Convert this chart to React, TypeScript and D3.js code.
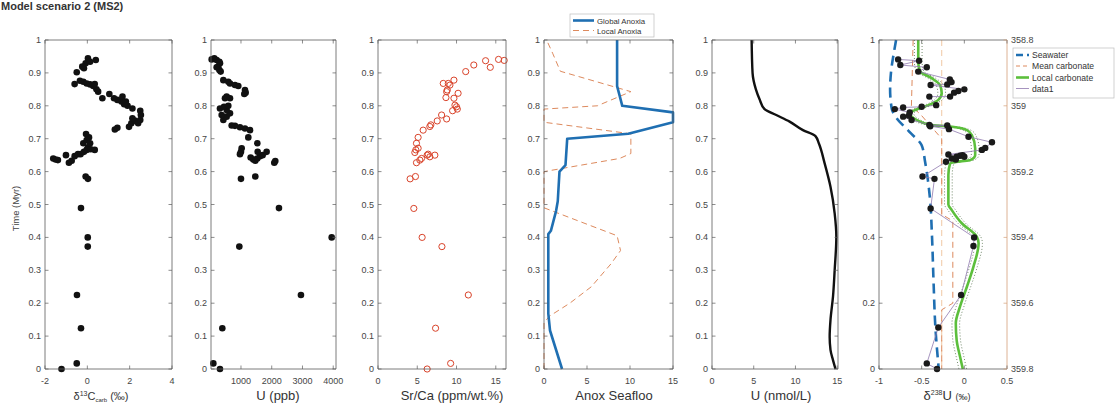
import React from "react";
import * as d3 from "d3";

type Pt = [number, number]; // [value, time (Myr)]

// ---- sample data -------------------------------------------------------
const d13cSamples: Pt[] = [
  [-1.22, 0.0], [-0.5, 0.017], [-0.3, 0.124], [-0.49, 0.225], [0.02, 0.372], [0.02, 0.4],
  [-0.3, 0.489], [0.03, 0.578], [-0.08, 0.585],
  [-1.61, 0.64], [-1.5, 0.637], [-1.39, 0.635], [-1.01, 0.65], [-0.87, 0.627], [-0.74, 0.633],
  [-0.6, 0.647], [-0.44, 0.653], [-0.32, 0.653], [-0.16, 0.66], [-0.03, 0.666], [0.03, 0.674],
  [0.16, 0.668], [0.35, 0.666], [-0.19, 0.686], [-0.03, 0.696], [0.08, 0.704], [-0.06, 0.714],
  [0.13, 0.686],
  [1.3, 0.728], [1.42, 0.733], [1.97, 0.736], [2.08, 0.747], [2.24, 0.755], [2.4, 0.747],
  [2.5, 0.757], [2.13, 0.762], [2.5, 0.785], [2.53, 0.772], [2.13, 0.792], [1.9, 0.8],
  [1.74, 0.805], [1.61, 0.813], [1.42, 0.818], [1.26, 0.823], [1.04, 0.836], [1.66, 0.828],
  [1.82, 0.813], [0.71, 0.823], [0.51, 0.843], [0.43, 0.85], [0.28, 0.86], [0.13, 0.865],
  [-0.03, 0.868], [-0.19, 0.873], [-0.35, 0.876], [-0.6, 0.866], [0.35, 0.866],
  [-0.5, 0.902], [-0.16, 0.914], [-0.08, 0.929], [0.03, 0.944], [0.13, 0.934], [0.4, 0.939],
  [-0.24, 0.919],
];

const uPpbSamples: Pt[] = [
  [317, 0.0], [101, 0.017], [393, 0.124], [2950, 0.225], [946, 0.372], [3950, 0.4],
  [2235, 0.489], [1000, 0.578], [1466, 0.585], [2083, 0.627], [2116, 0.632],
  [1314, 0.643], [1400, 0.637], [1466, 0.633], [1531, 0.64], [1618, 0.647], [1704, 0.65],
  [1834, 0.66], [1542, 0.66], [1531, 0.686], [1238, 0.704], [1022, 0.671], [1000, 0.66],
  [967, 0.653], [1130, 0.731], [967, 0.735], [805, 0.739], [697, 0.74], [1293, 0.726],
  [426, 0.757], [534, 0.767], [372, 0.772], [643, 0.777], [534, 0.787], [317, 0.792],
  [447, 0.797], [588, 0.8], [480, 0.823], [643, 0.823], [534, 0.828], [1130, 0.848],
  [1152, 0.84], [1108, 0.836], [643, 0.868], [805, 0.863], [913, 0.86], [426, 0.878],
  [588, 0.873], [317, 0.929], [263, 0.919], [296, 0.909], [339, 0.904], [209, 0.917],
  [47, 0.941], [133, 0.944], [209, 0.939], [296, 0.934],
];

const srCaSamples: Pt[] = [
  [6.26, 0.0], [9.25, 0.017], [7.33, 0.124], [11.5, 0.225], [8.14, 0.372], [5.62, 0.4],
  [4.56, 0.488], [4.09, 0.578], [4.77, 0.585], [4.9, 0.627], [5.33, 0.635], [5.54, 0.64],
  [6.26, 0.65], [6.6, 0.645], [7.24, 0.65], [6.39, 0.653], [4.69, 0.658], [4.82, 0.666],
  [5.11, 0.671], [4.9, 0.686], [5.11, 0.704], [5.75, 0.726], [6.6, 0.737], [6.73, 0.742],
  [7.54, 0.754], [8.1, 0.772], [8.74, 0.76], [9.5, 0.785], [10.1, 0.79], [9.8, 0.802],
  [10.2, 0.838], [9.67, 0.823], [10.0, 0.797], [8.65, 0.825], [8.74, 0.843], [8.82, 0.848],
  [8.31, 0.868], [9.16, 0.863], [9.67, 0.878], [8.95, 0.868], [11.17, 0.904], [12.2, 0.924],
  [13.7, 0.937], [14.3, 0.917], [15.35, 0.941], [16.07, 0.938],
];

const globalAnoxia: Pt[] = [
  [2.1, 0], [0.7, 0.117], [0.5, 0.168], [0.5, 0.41], [0.8, 0.42], [1.4, 0.48], [1.6, 0.51],
  [1.8, 0.6], [2.5, 0.62], [2.7, 0.7], [9.8, 0.715], [15, 0.75], [15, 0.78], [9.1, 0.8],
  [8.8, 0.83], [8.5, 0.86], [8.5, 1.0],
];

const localAnoxia: Pt[] = [
  [0, 0], [0, 0.14], [0.6, 0.16], [3, 0.2], [5.5, 0.25], [7.8, 0.32], [8.9, 0.36],
  [8.5, 0.405], [0, 0.49], [0, 0.6], [8.8, 0.64], [10.1, 0.655], [10.1, 0.715], [0, 0.75],
  [0, 0.79], [6.2, 0.8], [10.1, 0.843], [1.9, 0.905], [1, 0.96], [0.3, 1],
];

const uDissolved: Pt[] = [
  [4.75, 1.0], [4.86, 0.9], [5.26, 0.85], [5.7, 0.82], [6.3, 0.79], [7.7, 0.772],
  [9.3, 0.752], [10.9, 0.726], [12.4, 0.708], [12.8, 0.686], [13.5, 0.625], [14.2, 0.554],
  [14.7, 0.473], [14.9, 0.402], [14.7, 0.3], [14.5, 0.22], [14.2, 0.149], [14.1, 0.098],
  [14.2, 0.058], [14.5, 0.027], [14.8, 0.0],
];

const seawater: Pt[] = [
  [-0.8, 1.0], [-0.82, 0.97], [-0.86, 0.9], [-0.87, 0.85], [-0.85, 0.79], [-0.8, 0.765],
  [-0.64, 0.72], [-0.5, 0.68], [-0.46, 0.63], [-0.43, 0.58], [-0.4, 0.51], [-0.38, 0.41],
  [-0.36, 0.26], [-0.34, 0.13], [-0.3, 0.0],
];

const meanCarbonate: Pt[] = [
  [-0.6, 1.0], [-0.61, 0.9], [-0.62, 0.8], [-0.5, 0.77], [-0.265, 0.7], [-0.265, 0.47],
  [-0.135, 0.45], [-0.135, 0.2], [-0.265, 0.18], [-0.265, 0.0],
];

const carbonateBaseline: Pt[] = [[-0.265, 1.0], [-0.265, 0.0]];

const localCarbonate: Pt[] = [
  [-0.54, 1.0], [-0.54, 0.934], [-0.52, 0.905], [-0.383, 0.884], [-0.285, 0.863],
  [-0.265, 0.838], [-0.305, 0.818], [-0.42, 0.802], [-0.58, 0.787], [-0.638, 0.777],
  [-0.56, 0.757], [-0.4, 0.742], [-0.167, 0.737], [0.03, 0.726], [0.088, 0.711],
  [0.127, 0.671], [0.127, 0.65], [0.068, 0.635], [-0.05, 0.631], [-0.167, 0.625],
  [-0.187, 0.59], [-0.187, 0.5], [-0.147, 0.483], [-0.03, 0.443], [0.147, 0.402],
  [0.167, 0.382], [0.107, 0.311], [0.03, 0.25], [-0.05, 0.19], [-0.1, 0.139],
  [-0.09, 0.088], [-0.05, 0.037], [-0.018, 0.0],
];
const localCarbonateSpread = 0.045;

const d238uSamples: Pt[] = [
  [-0.32, 0.0], [-0.44, 0.017], [-0.305, 0.126], [-0.038, 0.225], [0.107, 0.374],
  [0.115, 0.4], [-0.395, 0.488], [-0.35, 0.578], [-0.49, 0.585], [-0.215, 0.63],
  [-0.1, 0.637], [-0.147, 0.64], [-0.09, 0.645], [-0.05, 0.648], [-0.02, 0.65],
  [0.0, 0.645], [-0.187, 0.652], [0.206, 0.666], [0.245, 0.672], [0.324, 0.689],
  [0.049, 0.706], [-0.18, 0.729], [-0.2, 0.74], [-0.41, 0.742], [-0.4, 0.738],
  [-0.618, 0.757], [-0.717, 0.767], [-0.65, 0.77], [-0.64, 0.78], [-0.815, 0.79],
  [-0.717, 0.795], [-0.5, 0.797], [-0.33, 0.802], [-0.41, 0.828], [-0.167, 0.828],
  [-0.12, 0.84], [-0.07, 0.845], [0.0, 0.85], [-0.395, 0.863], [-0.2, 0.865],
  [-0.15, 0.872], [-0.17, 0.88], [-0.54, 0.904], [-0.44, 0.917], [-0.75, 0.924],
  [-0.53, 0.937], [-0.776, 0.941],
];

const timeTicks = [0, 0.1, 0.2, 0.3, 0.4, 0.5, 0.6, 0.7, 0.8, 0.9, 1];
const timeTicksCoarse = [0, 0.2, 0.4, 0.6, 0.8, 1];
const ageTickLabels = ["359.8", "359.6", "359.4", "359.2", "359", "358.8"];

// ---- layout -------------------------------------------------------------
const TOP = 40;
const BOTTOM = 369;
const TICK = 3.5;
const AXIS_COLOR = "#5c5c5c";
const LABEL_COLOR = "#454545";
const FONT = "'Liberation Sans', Arial, Helvetica, sans-serif";

const yScale = d3.scaleLinear().domain([0, 1]).range([BOTTOM, TOP]);

const fmt = (v: number) => String(+v.toFixed(2));

type PanelProps = {
  left: number;
  right: number;
  domain: [number, number];
  xTicks: number[];
  yTicks: number[];
  rightSpineColor?: string;
  children: (x: d3.ScaleLinear<number, number>) => React.ReactNode;
};

function Panel({ left, right, domain, xTicks, yTicks, rightSpineColor, children }: PanelProps) {
  const x = d3.scaleLinear().domain(domain).range([left, right]);
  const rc = rightSpineColor ?? AXIS_COLOR;
  return (
    <g>
      {children(x)}
      <line x1={left} x2={right} y1={TOP} y2={TOP} stroke={AXIS_COLOR} strokeWidth={0.8} />
      <line x1={left} x2={right} y1={BOTTOM} y2={BOTTOM} stroke={AXIS_COLOR} strokeWidth={0.8} />
      <line x1={left} x2={left} y1={TOP} y2={BOTTOM} stroke={AXIS_COLOR} strokeWidth={0.8} />
      <line x1={right} x2={right} y1={TOP} y2={BOTTOM} stroke={rc} strokeWidth={0.8} />
      {xTicks.map((t) => (
        <g key={"x" + t}>
          <line x1={x(t)} x2={x(t)} y1={BOTTOM} y2={BOTTOM - TICK} stroke={AXIS_COLOR} strokeWidth={0.7} />
          <line x1={x(t)} x2={x(t)} y1={TOP} y2={TOP + TICK} stroke={AXIS_COLOR} strokeWidth={0.7} />
          <text x={x(t)} y={BOTTOM + 15} textAnchor="middle" fontSize={9} fill={LABEL_COLOR}>
            {fmt(t)}
          </text>
        </g>
      ))}
      {yTicks.map((t) => (
        <g key={"y" + t}>
          <line x1={left} x2={left + TICK} y1={yScale(t)} y2={yScale(t)} stroke={AXIS_COLOR} strokeWidth={0.7} />
          {rightSpineColor ? null : (
            <line x1={right} x2={right - TICK} y1={yScale(t)} y2={yScale(t)} stroke={AXIS_COLOR} strokeWidth={0.7} />
          )}
          <text x={left - 4} y={yScale(t) + 3} textAnchor="end" fontSize={9} fill={LABEL_COLOR}>
            {fmt(t)}
          </text>
        </g>
      ))}
    </g>
  );
}

const lineOf = (x: d3.ScaleLinear<number, number>, curve: d3.CurveFactory = d3.curveLinear) =>
  d3
    .line<Pt>()
    .x((d) => x(d[0]))
    .y((d) => yScale(d[1]))
    .curve(curve);

const BLUE = "#1f6fb2";
const ORANGE = "#dd8a5e";
const ORANGE_LIGHT = "#f0c8a4";
const GREEN = "#5cbf3c";
const PURPLE = "#8f78ae";
const RED = "#d9432a";
const TAN = "#d4a07a";

export default function App() {
  const sortedU = [...d238uSamples].sort((a, b) => a[1] - b[1]);
  return (
    <svg
      width={1120}
      height={416}
      viewBox="0 0 1120 416"
      style={{ position: "absolute", left: 0, top: 0, background: "#fff" }}
      fontFamily={FONT}
    >
      <rect width={1120} height={416} fill="#fff" />
      <text x={1} y={10} fontSize={11} fontWeight="bold" fill="#333">
        Model scenario 2 (MS2)
      </text>
      <text
        transform={`translate(19,${(TOP + BOTTOM) / 2 + 4}) rotate(-90)`}
        textAnchor="middle"
        fontSize={9.5}
        fill={LABEL_COLOR}
      >
        Time (Myr)
      </text>

      {/* δ13C carbonate */}
      <Panel left={45} right={172} domain={[-2, 4]} xTicks={[-2, 0, 2, 4]} yTicks={timeTicks}>
        {(x) =>
          d13cSamples.map((d, i) => (
            <circle key={i} cx={x(d[0])} cy={yScale(d[1])} r={3.3} fill="#111" />
          ))
        }
      </Panel>
      <text x={101} y={400} textAnchor="middle" fontSize={11} fill="#333">
        δ<tspan fontSize={7} dy={-4}>13</tspan>
        <tspan dy={4}>C</tspan>
        <tspan fontSize={6} dy={2}>carb</tspan>
        <tspan dy={-2}> (‰)</tspan>
      </text>

      {/* U (ppb) */}
      <Panel left={211} right={336} domain={[25, 4090]} xTicks={[1000, 2000, 3000, 4000]} yTicks={timeTicks}>
        {(x) =>
          uPpbSamples.map((d, i) => (
            <circle key={i} cx={x(d[0])} cy={yScale(d[1])} r={3.3} fill="#111" />
          ))
        }
      </Panel>
      <text x={278} y={400} textAnchor="middle" fontSize={13} fill="#333">
        U (ppb)
      </text>

      {/* Sr/Ca */}
      <Panel left={378} right={506} domain={[0, 16.3]} xTicks={[0, 5, 10, 15]} yTicks={timeTicks}>
        {(x) =>
          srCaSamples.map((d, i) => (
            <circle key={i} cx={x(d[0])} cy={yScale(d[1])} r={3.1} fill="none" stroke={RED} strokeWidth={1} />
          ))
        }
      </Panel>
      <text x={452} y={400} textAnchor="middle" fontSize={13} fill="#333">
        Sr/Ca (ppm/wt.%)
      </text>

      {/* Anoxic seafloor */}
      <Panel left={544} right={673} domain={[0, 15]} xTicks={[0, 5, 10, 15]} yTicks={timeTicks}>
        {(x) => (
          <g>
            <path d={lineOf(x)(localAnoxia) ?? ""} fill="none" stroke={ORANGE} strokeWidth={1} strokeDasharray="6,4" />
            <path d={lineOf(x)(globalAnoxia) ?? ""} fill="none" stroke={BLUE} strokeWidth={2.6} strokeLinejoin="round" />
          </g>
        )}
      </Panel>
      <g>
        <rect x={570} y={14} width={84} height={23} fill="#fff" stroke="#bdbdbd" strokeWidth={0.7} />
        <line x1={573} x2={594} y1={20.5} y2={20.5} stroke={BLUE} strokeWidth={2.6} />
        <text x={597} y={23.5} fontSize={7.8} fill="#333">Global Anoxia</text>
        <line x1={573} x2={594} y1={30.5} y2={30.5} stroke={ORANGE} strokeWidth={1} strokeDasharray="6,4" />
        <text x={597} y={33.5} fontSize={7.8} fill="#333">Local Anoxia</text>
      </g>
      <text x={614} y={400} textAnchor="middle" fontSize={13} fill="#333">
        Anox Seafloo
      </text>

      {/* Dissolved U */}
      <Panel left={712} right={838} domain={[0, 15.1]} xTicks={[0, 5, 10, 15]} yTicks={timeTicks}>
        {(x) => (
          <path d={lineOf(x, d3.curveMonotoneY)(uDissolved) ?? ""} fill="none" stroke="#111" strokeWidth={2.4} />
        )}
      </Panel>
      <text x={781} y={400} textAnchor="middle" fontSize={13} fill="#333">
        U (nmol/L)
      </text>

      {/* δ238U */}
      <Panel
        left={879}
        right={1007}
        domain={[-1, 0.5]}
        xTicks={[-1, -0.5, 0, 0.5]}
        yTicks={timeTicksCoarse}
        rightSpineColor={TAN}
      >
        {(x) => {
          const spreadLo: Pt[] = localCarbonate.map((d) => [d[0] - localCarbonateSpread, d[1]]);
          const spreadHi: Pt[] = localCarbonate.map((d) => [d[0] + localCarbonateSpread, d[1]]);
          return (
            <g>
              <path d={lineOf(x)(carbonateBaseline) ?? ""} fill="none" stroke={ORANGE_LIGHT} strokeWidth={1} strokeDasharray="6,4" />
              <path d={lineOf(x)(meanCarbonate) ?? ""} fill="none" stroke={ORANGE} strokeWidth={1} strokeDasharray="6,4" />
              <path d={lineOf(x, d3.curveMonotoneY)(seawater) ?? ""} fill="none" stroke={BLUE} strokeWidth={2.6} strokeDasharray="10,6" />
              <path d={lineOf(x, d3.curveMonotoneY)(spreadLo) ?? ""} fill="none" stroke="#4f6b45" strokeWidth={0.8} strokeDasharray="1,2" />
              <path d={lineOf(x, d3.curveMonotoneY)(spreadHi) ?? ""} fill="none" stroke="#4f6b45" strokeWidth={0.8} strokeDasharray="1,2" />
              <path d={lineOf(x, d3.curveMonotoneY)(localCarbonate) ?? ""} fill="none" stroke={GREEN} strokeWidth={2.6} />
              <path d={lineOf(x)(sortedU) ?? ""} fill="none" stroke={PURPLE} strokeWidth={0.8} />
              {d238uSamples.map((d, i) => (
                <circle key={i} cx={x(d[0])} cy={yScale(d[1])} r={3.2} fill="#1a1a1a" />
              ))}
            </g>
          );
        }}
      </Panel>
      {timeTicksCoarse.map((t, i) => (
        <g key={"age" + t}>
          <line x1={1007} x2={1007 - TICK} y1={yScale(t)} y2={yScale(t)} stroke={TAN} strokeWidth={0.7} />
          <text x={1011} y={yScale(t) + 3} fontSize={9} fill={LABEL_COLOR}>
            {ageTickLabels[i]}
          </text>
        </g>
      ))}
      <g>
        <rect x={1013} y={48} width={101} height={50} fill="#fff" stroke="#bdbdbd" strokeWidth={0.7} />
        <line x1={1016} x2={1029} y1={55} y2={55} stroke={BLUE} strokeWidth={2.6} strokeDasharray="7,4" />
        <text x={1032} y={58} fontSize={8.6} fill="#333">Seawater</text>
        <line x1={1016} x2={1029} y1={66} y2={66} stroke={ORANGE} strokeWidth={1} strokeDasharray="4,3" />
        <text x={1032} y={69} fontSize={8.6} fill="#333">Mean carbonate</text>
        <line x1={1016} x2={1029} y1={77.5} y2={77.5} stroke={GREEN} strokeWidth={2.6} />
        <text x={1032} y={80.5} fontSize={8.6} fill="#333">Local carbonate</text>
        <line x1={1016} x2={1029} y1={88.5} y2={88.5} stroke={PURPLE} strokeWidth={0.8} />
        <text x={1032} y={91.5} fontSize={8.6} fill="#333">data1</text>
      </g>
      <text x={947} y={400} textAnchor="middle" fontSize={13} fill="#333">
        δ<tspan fontSize={7} dy={-5}>238</tspan>
        <tspan dy={5}>U </tspan>
        <tspan fontSize={9}>(‰)</tspan>
      </text>
    </svg>
  );
}
